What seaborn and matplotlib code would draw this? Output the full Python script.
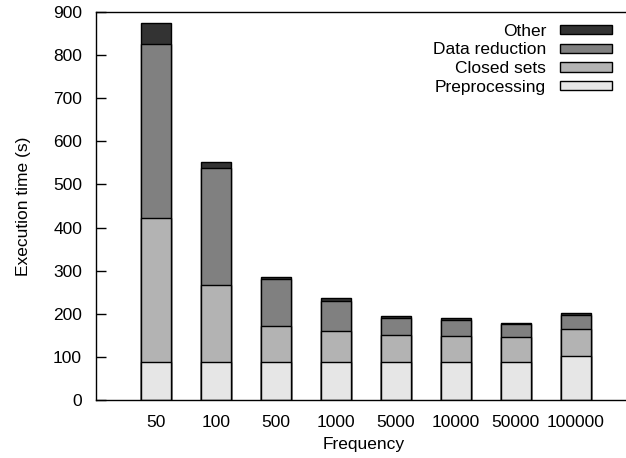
import numpy as np
import pandas as pd
import seaborn as sns
from matplotlib import pyplot as plt
from matplotlib.patches import Patch

frequencies = ["50", "100", "500", "1000", "5000", "10000", "50000", "100000"]
preprocessing = [88, 88, 88, 88, 88, 88, 88, 102]
closed_sets = [335, 179, 84, 72, 63, 61, 57, 63]
data_reduction = [402, 270, 109, 70, 40, 37, 31, 33]
other = [49, 16, 5, 7, 4, 5, 3, 4]

series = ["Preprocessing", "Closed sets", "Data reduction", "Other"]
colors = {
    "Preprocessing": "#e6e6e6",
    "Closed sets": "#b3b3b3",
    "Data reduction": "#808080",
    "Other": "#333333",
}

df = pd.DataFrame(
    {
        "Frequency": frequencies,
        "Preprocessing": preprocessing,
        "Closed sets": closed_sets,
        "Data reduction": data_reduction,
        "Other": other,
    }
)
# cumulative tops so the bars can be layered from tallest to shortest
cum = df[series].cumsum(axis=1)

sns.set_style("white")
plt.rcParams["font.family"] = ["Liberation Sans", "DejaVu Sans"]
plt.rcParams["font.size"] = 12.5
for key in ["text.color", "axes.labelcolor", "xtick.color", "ytick.color"]:
    plt.rcParams[key] = "black"

fig = plt.figure(figsize=(6.26, 4.58), dpi=100)
ax = fig.add_axes([96 / 626, 58 / 458, 535 / 626, 388 / 458])

for name in reversed(series):
    sns.barplot(
        x=df["Frequency"],
        y=cum[name],
        color=colors[name],
        saturation=1,
        width=0.5,
        edgecolor="black",
        linewidth=1.0,
        order=frequencies,
        ax=ax,
    )

ax.set_xlim(-1.0, 7.92)
ax.set_ylim(0, 900)
ax.set_yticks(np.arange(0, 901, 100))
ax.set_xlabel("Frequency", fontsize=12.5, labelpad=5)
ax.set_ylabel("Execution time (s)", fontsize=12.5, labelpad=16)

ax.tick_params(axis="y", left=True, direction="in", length=7, width=1,
               pad=10, labelsize=12.5)
ax.tick_params(axis="x", bottom=False, length=0, pad=11, labelsize=12.5)
for side in ["left", "bottom", "top"]:
    ax.spines[side].set_linewidth(1.0)
    ax.spines[side].set_color("black")
ax.spines["right"].set_visible(False)

handles = [
    Patch(facecolor=colors[n], edgecolor="black", linewidth=1.0, label=n)
    for n in reversed(series)
]
ax.legend(
    handles=handles,
    loc="upper right",
    bbox_to_anchor=(0.994, 1.010),
    frameon=False,
    markerfirst=False,
    handlelength=3.0,
    handleheight=0.45,
    handletextpad=0.8,
    labelspacing=0.21,
    fontsize=12.5,
)

fig.savefig("out.png", dpi=100)
